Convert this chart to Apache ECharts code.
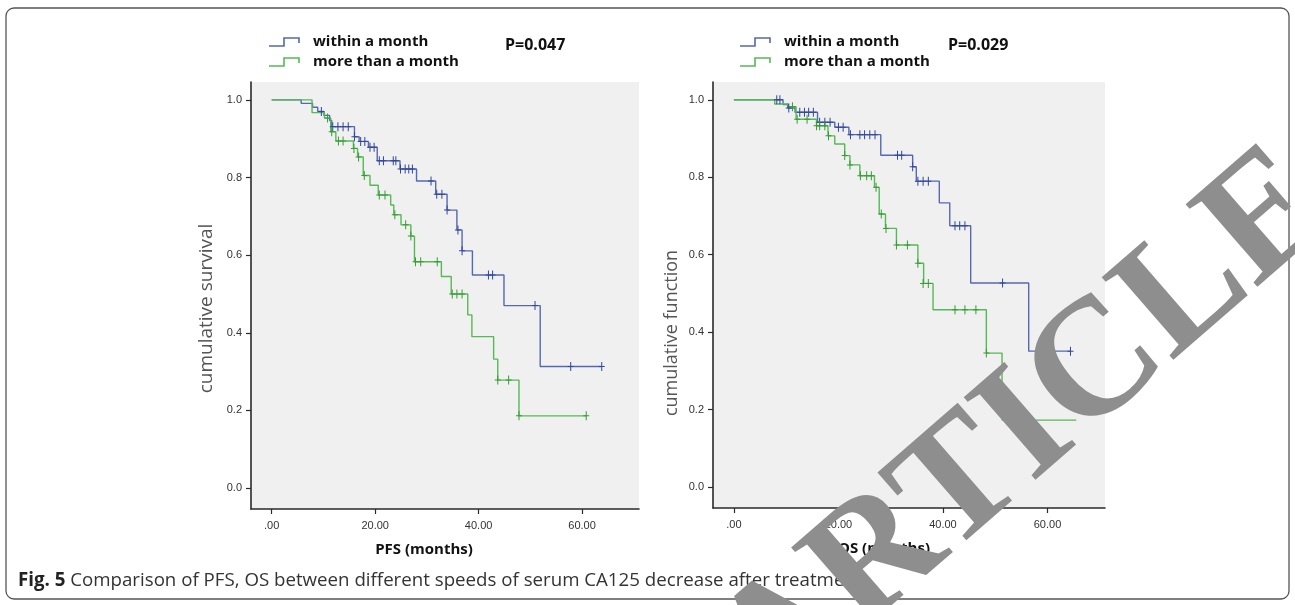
<!DOCTYPE html>
<html>
<head>
<meta charset="utf-8">
<script src="https://cdn.jsdelivr.net/npm/echarts@6/dist/echarts.min.js"></script>
<style>
html,body{margin:0;padding:0;background:#fff;}
#chart{width:1295px;height:605px;}
</style>
</head>
<body>
<div id="chart"></div>
<script>
// ---------- data (months, cumulative survival) ----------
const GROUPS = ['within a month', 'more than a month'];
const X_TICKS = [0, 20, 40, 60];
const Y_TICKS = [0, 0.2, 0.4, 0.6, 0.8, 1.0];

// PFS – within a month (step points, value after each event)
const pfsWithinSteps = [[0,1],[5.7,0.991],[7.9,0.981],[8.9,0.970],[10.1,0.960],[11.2,0.947],[11.6,0.931],[16.0,0.905],[16.9,0.893],[18.7,0.878],[20.4,0.843],[24.8,0.822],[28.0,0.791],[31.7,0.757],[33.9,0.716],[35.8,0.665],[36.8,0.611],[38.8,0.549],[44.9,0.470],[51.9,0.313],[63.8,0.313]];
const pfsWithinCensor = [[9.6,0.970],[11.8,0.931],[12.8,0.931],[13.8,0.931],[14.8,0.931],[16.0,0.905],[17.2,0.893],[18.0,0.893],[19.0,0.878],[19.8,0.878],[20.8,0.843],[21.6,0.843],[23.5,0.843],[24.0,0.843],[24.9,0.822],[25.8,0.822],[26.5,0.822],[27.2,0.822],[30.8,0.791],[31.9,0.757],[32.9,0.757],[33.9,0.716],[36.0,0.665],[36.8,0.611],[41.9,0.549],[42.7,0.549],[50.9,0.470],[57.8,0.313],[63.8,0.313]];
// PFS – more than a month
const pfsMoreSteps = [[0,1],[7.8,0.967],[10.2,0.953],[11.4,0.918],[12.4,0.894],[15.8,0.875],[16.6,0.853],[17.7,0.805],[19.0,0.780],[20.6,0.755],[23.0,0.729],[23.6,0.704],[25.0,0.678],[26.9,0.649],[27.6,0.583],[32.8,0.545],[34.7,0.500],[37.9,0.446],[38.7,0.390],[42.9,0.332],[43.7,0.278],[47.8,0.186],[60.8,0.186]];
const pfsMoreCensor = [[10.8,0.953],[11.6,0.918],[12.9,0.894],[13.8,0.894],[15.9,0.875],[16.8,0.853],[17.9,0.805],[20.8,0.755],[21.9,0.755],[23.8,0.704],[25.9,0.678],[26.9,0.649],[27.8,0.583],[28.8,0.583],[32.0,0.583],[34.9,0.500],[35.8,0.500],[36.8,0.500],[43.7,0.278],[45.8,0.278],[47.8,0.186],[60.8,0.186]];

// OS – within a month
const osWithinSteps = [[0,1],[9.4,0.988],[10.3,0.979],[11.7,0.968],[16.0,0.942],[19.3,0.929],[22.0,0.910],[28.1,0.857],[34.2,0.827],[34.9,0.790],[39.3,0.734],[41.3,0.675],[45.3,0.527],[56.4,0.351],[64.4,0.351]];
const osWithinCensor = [[8.2,1.0],[8.8,1.0],[10.5,0.979],[12.6,0.968],[13.5,0.968],[14.3,0.968],[15.2,0.968],[16.4,0.942],[17.4,0.942],[18.4,0.942],[20.0,0.929],[20.9,0.929],[22.3,0.910],[24.1,0.910],[25.0,0.910],[26.0,0.910],[27.0,0.910],[31.3,0.857],[32.1,0.857],[34.2,0.827],[35.2,0.790],[36.2,0.790],[37.2,0.790],[42.3,0.675],[43.2,0.675],[44.2,0.675],[51.4,0.527],[58.4,0.351],[64.4,0.351]];
// OS – more than a month
const osMoreSteps = [[0,1],[7.8,0.989],[10.4,0.982],[11.9,0.950],[15.8,0.933],[18.0,0.907],[19.3,0.886],[21.2,0.856],[22.2,0.832],[24.1,0.804],[26.9,0.774],[27.8,0.705],[29.0,0.668],[31.1,0.625],[35.2,0.578],[36.3,0.526],[38.1,0.458],[48.3,0.346],[51.3,0.173],[65.5,0.173]];
const osMoreCensor = [[11.2,0.982],[12.1,0.950],[14.0,0.950],[15.8,0.933],[16.4,0.933],[17.4,0.933],[18.1,0.907],[21.2,0.856],[22.2,0.832],[24.2,0.804],[25.4,0.804],[26.3,0.804],[27.2,0.774],[28.2,0.705],[29.1,0.668],[31.1,0.625],[33.2,0.625],[35.2,0.578],[36.2,0.526],[37.2,0.526],[42.3,0.458],[44.2,0.458],[46.3,0.458],[48.3,0.346]];

const P_VALUES = ['P=0.047', 'P=0.029'];
const X_NAMES = ['PFS (months)', 'OS (months)'];
const Y_NAMES = ['cumulative survival', 'cumulative function'];
const CAPTION_BOLD = 'Fig. 5';
const CAPTION = ' Comparison of PFS, OS between different speeds of serum CA125 decrease after treatment';
const WATERMARK = 'RETRACTED ARTICLE';

// ---------- styling ----------
const BLUE = '#5568b0', BLUE_DARK = '#32479a';
const GREEN = '#56b956', GREEN_DARK = '#379c37';
const AXIS = '#2a2a2a';
const CENSOR = 'path://M2.5,0 H3.5 V4 H6 V5 H3.5 V9 H2.5 V5 H0 V4 H2.5 Z';

function xAxisCfg(i, padRight) {
  return {
    type: 'value', gridIndex: i, min: -4, max: 71,
    axisLine: {show: true, onZero: false, lineStyle: {color: AXIS, width: 1.6}},
    axisTick: {show: true, customValues: X_TICKS, length: 5, lineStyle: {color: AXIS, width: 1.2}},
    axisLabel: {customValues: X_TICKS, margin: 11, color: '#333', fontFamily: 'Liberation Sans', fontSize: 11,
      formatter: v => v === 0 ? '.00' : v.toFixed(2)},
    splitLine: {show: false},
    name: X_NAMES[i], nameLocation: 'middle', nameGap: 33,
    nameTextStyle: {fontFamily: 'Open Sans', fontWeight: 'bold', fontSize: 15, color: '#111', padding: [0, padRight, 0, 0]}
  };
}
function yAxisCfg(i, gap, padRight, fs) {
  return {
    type: 'value', gridIndex: i, min: -0.054, max: 1.046,
    axisLine: {show: true, onZero: false, lineStyle: {color: AXIS, width: 1.6}},
    axisTick: {show: true, customValues: Y_TICKS, length: 5, lineStyle: {color: AXIS, width: 1.2}},
    axisLabel: {customValues: Y_TICKS, margin: 9, color: '#333', fontFamily: 'Liberation Sans', fontSize: 11,
      formatter: v => v.toFixed(1)},
    splitLine: {show: false},
    name: Y_NAMES[i], nameLocation: 'middle', nameGap: gap,
    nameTextStyle: {fontFamily: 'Open Sans', fontSize: fs, color: '#555', padding: [0, padRight, 0, 0]}
  };
}
function stepSeries(name, idx, data, color) {
  return {type: 'line', name, xAxisIndex: idx, yAxisIndex: idx, step: 'end', data,
    showSymbol: false, symbol: 'none', lineStyle: {color, width: 1.4}, itemStyle: {color}, z: 3};
}
function censorSeries(name, idx, data, color) {
  return {type: 'scatter', name, xAxisIndex: idx, yAxisIndex: idx, data,
    symbol: CENSOR, symbolSize: [6, 9], itemStyle: {color, opacity: 1}, z: 4};
}
function legendGraphic(x0, pText, px) {
  const els = [];
  [[BLUE, GROUPS[0], 0], [GREEN, GROUPS[1], 20]].forEach(([c, t, dy]) => {
    els.push({type: 'polyline', shape: {points: [[x0, 46 + dy], [x0 + 15, 46 + dy], [x0 + 15, 38 + dy], [x0 + 30, 38 + dy], [x0 + 30, 43 + dy]]},
      style: {stroke: c, lineWidth: 1.6, fill: null}});
    els.push({type: 'text', x: x0 + 44, y: 42 + dy, style: {text: t, fontFamily: 'Open Sans', fontWeight: 'bold', fontSize: 15, fill: '#111', verticalAlign: 'middle'}});
  });
  els.push({type: 'text', x: px, y: 45, style: {text: pText, fontFamily: 'Open Sans', fontWeight: 'bold', fontSize: 16, fill: '#111', verticalAlign: 'middle'}});
  return els;
}

const chart = echarts.init(document.getElementById('chart'), null, {renderer: 'canvas'});
chart.setOption({
  animation: false,
  backgroundColor: '#fff',
  grid: [
    {left: 251, top: 82, width: 388, height: 427, show: true, backgroundColor: '#f0f0f0', borderWidth: 0},
    {left: 713, top: 82, width: 392, height: 426, show: true, backgroundColor: '#f0f0f0', borderWidth: 0}
  ],
  xAxis: [xAxisCfg(0, 42), xAxisCfg(1, 50)],
  yAxis: [yAxisCfg(0, 35, 26, 19), yAxisCfg(1, 32, 76, 18)],
  series: [
    stepSeries(GROUPS[0], 0, pfsWithinSteps, BLUE),
    stepSeries(GROUPS[1], 0, pfsMoreSteps, GREEN),
    censorSeries(GROUPS[0], 0, pfsWithinCensor, BLUE_DARK),
    censorSeries(GROUPS[1], 0, pfsMoreCensor, GREEN_DARK),
    stepSeries(GROUPS[0], 1, osWithinSteps, BLUE),
    stepSeries(GROUPS[1], 1, osMoreSteps, GREEN),
    censorSeries(GROUPS[0], 1, osWithinCensor, BLUE_DARK),
    censorSeries(GROUPS[1], 1, osMoreCensor, GREEN_DARK)
  ],
  graphic: [
    {type: 'rect', shape: {x: 6, y: 8, width: 1283, height: 591, r: 8}, style: {fill: null, stroke: '#555', lineWidth: 1.3}, z: 0},
    ...legendGraphic(269, P_VALUES[0], 505),
    ...legendGraphic(740, P_VALUES[1], 948),
    {type: 'text', x: 18, y: 581, style: {
      text: '{b|' + CAPTION_BOLD + '}{r|' + CAPTION + '}', verticalAlign: 'middle',
      rich: {b: {fontFamily: 'Open Sans', fontWeight: 'bold', fontSize: 18.7, fill: '#222'},
             r: {fontFamily: 'Open Sans', fontSize: 18.7, fill: '#333'}}}},
    {type: 'text', x: 1311, y: 183, rotation: 0.716, z: 100, style: {
      text: WATERMARK, fontFamily: 'Liberation Serif', fontWeight: 'bold', fontSize: 167,
      fill: '#8e8e8e', align: 'right', verticalAlign: 'middle'}}
  ]
});
</script>
</body>
</html>
